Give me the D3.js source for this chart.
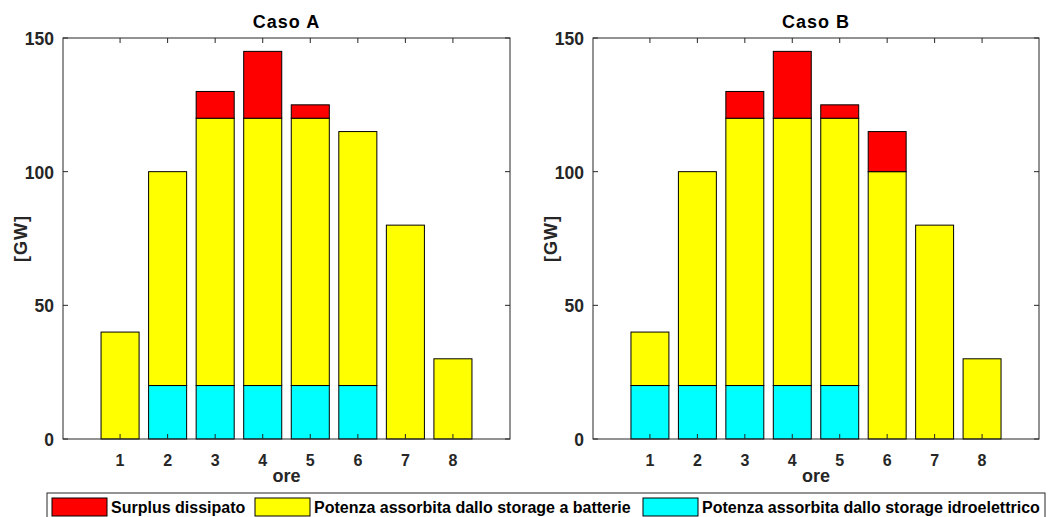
<!DOCTYPE html>
<html>
<head>
<meta charset="utf-8">
<script src="https://cdn.jsdelivr.net/npm/d3@7"></script>
<style>
  body { margin: 0; background: #fff; }
  svg { font-family: "Liberation Sans", Arial, sans-serif; }
</style>
</head>
<body>
<svg id="chart" width="1051" height="517"></svg>
<script>
// Data;
const hours = [1, 2, 3, 4, 5, 6, 7, 8];
const yTicks = [0, 50, 100, 150];
const seriesNames = ['Surplus dissipato', 'Potenza assorbita dallo storage a batterie', 'Potenza assorbita dallo storage idroelettrico'];
const seriesColors = ['#ff0000', '#ffff00', '#00ffff'];

const hydroA = [0, 20, 20, 20, 20, 20, 0, 0];
const batteryA = [40, 80, 100, 100, 100, 95, 80, 30];
const surplusA = [0, 0, 10, 25, 5, 0, 0, 0];

const hydroB = [20, 20, 20, 20, 20, 0, 0, 0];
const batteryB = [20, 80, 100, 100, 100, 100, 80, 30];
const surplusB = [0, 0, 10, 25, 5, 15, 0, 0];

const panels = [
    { title: 'Caso A', left: 63, right: 510, hydro: hydroA, battery: batteryA, surplus: surplusA },
    { title: 'Caso B', left: 593, right: 1039, hydro: hydroB, battery: batteryB, surplus: surplusB }
];

const plotTop = 38, plotBottom = 439;
const axisColor = '#262626';
const svg = d3.select('#chart');

panels.forEach((p) => {
    const x = d3.scaleLinear().domain([-0.2, 9.2]).range([p.left, p.right]);
    const y = d3.scaleLinear().domain([0, 150]).range([plotBottom, plotTop]);
    const g = svg.append('g');

    // Stack: hydro at bottom, battery, surplus on top;
    const rows = hours.map((h, i) => ({ h, hydro: p.hydro[i], battery: p.battery[i], surplus: p.surplus[i] }));
    const stack = d3.stack().keys(['hydro', 'battery', 'surplus'])(rows);
    const colorByKey = { hydro: seriesColors[2], battery: seriesColors[1], surplus: seriesColors[0] };
    const bw = x(0.8) - x(0);

    stack.forEach((layer) => {
        g.selectAll(null)
            .data(layer.filter((d) => d[1] > d[0]))
            .enter()
            .append('rect')
            .attr('x', (d) => x(d.data.h) - bw / 2)
            .attr('y', (d) => y(d[1]))
            .attr('width', bw)
            .attr('height', (d) => y(d[0]) - y(d[1]))
            .attr('fill', colorByKey[layer.key])
            .attr('stroke', '#000')
            .attr('stroke-width', 1);
    });

    // Axes box;
    g.append('rect')
        .attr('x', p.left).attr('y', plotTop)
        .attr('width', p.right - p.left).attr('height', plotBottom - plotTop)
        .attr('fill', 'none').attr('stroke', axisColor).attr('stroke-width', 1);

    // Inside ticks, MATLAB style;
    const tl = 5;
    hours.forEach((h) => {
        g.append('line').attr('x1', x(h)).attr('x2', x(h)).attr('y1', plotBottom).attr('y2', plotBottom - tl).attr('stroke', axisColor);
        g.append('line').attr('x1', x(h)).attr('x2', x(h)).attr('y1', plotTop).attr('y2', plotTop + tl).attr('stroke', axisColor);
        g.append('text').attr('x', x(h)).attr('y', plotBottom + 27)
            .attr('text-anchor', 'middle').attr('font-size', 16).attr('font-weight', 'bold')
            .attr('fill', axisColor).text(h);
    });
    yTicks.forEach((t) => {
        g.append('line').attr('x1', p.left).attr('x2', p.left + tl).attr('y1', y(t)).attr('y2', y(t)).attr('stroke', axisColor);
        g.append('line').attr('x1', p.right).attr('x2', p.right - tl).attr('y1', y(t)).attr('y2', y(t)).attr('stroke', axisColor);
        g.append('text').attr('x', p.left - 9).attr('y', y(t) + 7)
            .attr('text-anchor', 'end').attr('font-size', 17.5).attr('font-weight', 'bold')
            .attr('fill', axisColor).text(t);
    });

    // Title and labels;
    const cx = (p.left + p.right) / 2;
    g.append('text').attr('x', cx).attr('y', 28)
        .attr('text-anchor', 'middle').attr('font-size', 18).attr('font-weight', 'bold')
        .attr('letter-spacing', 1).attr('fill', '#000').text(p.title);
    g.append('text').attr('x', cx).attr('y', 482)
        .attr('text-anchor', 'middle').attr('font-size', 18).attr('font-weight', 'bold')
        .attr('fill', axisColor).text('ore');
    g.append('text')
        .attr('transform', `translate(${p.left - 36},${(plotTop + plotBottom) / 2}) rotate(-90)`)
        .attr('text-anchor', 'middle').attr('font-size', 18).attr('font-weight', 'bold')
        .attr('letter-spacing', 1).attr('fill', axisColor).text('[GW]');
});

// Legend;
const legend = svg.append('g');
legend.append('rect')
    .attr('x', 47).attr('y', 493).attr('width', 998).attr('height', 30)
    .attr('fill', '#fff').attr('stroke', axisColor).attr('stroke-width', 1);
const legendX = [52, 255, 643];
seriesNames.forEach((name, i) => {
    legend.append('rect')
        .attr('x', legendX[i]).attr('y', 498).attr('width', 55).attr('height', 18)
        .attr('fill', seriesColors[i]).attr('stroke', '#000').attr('stroke-width', 1);
    legend.append('text')
        .attr('x', legendX[i] + 59).attr('y', 513)
        .attr('font-size', 16).attr('font-weight', 'bold').attr('fill', '#000')
        .text(name);
});
</script>
</body>
</html>
